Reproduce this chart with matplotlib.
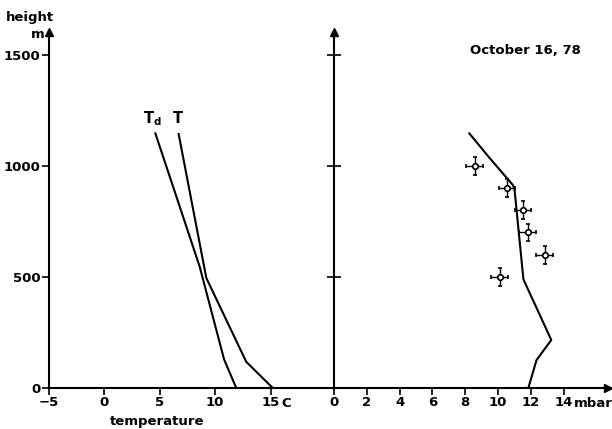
import matplotlib.pyplot as plt
import numpy as np

# temperature profiles (C) vs height (m)
t_height = [1143, 495, 118, 0]
t_temp = [6.7, 9.2, 12.8, 15.2]
td_height = [1146, 546, 129, 0]
td_temp = [4.6, 8.6, 10.8, 11.9]

# vapour pressure (mbar) profile
e_height = [1146, 1034, 914, 899, 489, 216, 126, 0]
e_mbar = [8.25, 9.5, 10.9, 11.0, 11.55, 13.25, 12.35, 11.85]

# measured points with error bars
p_height = [1000, 900, 800, 700, 600, 500]
p_mbar = [8.57, 10.55, 11.52, 11.8, 12.84, 10.1]
p_xerr = 0.5
p_yerr = 40

W, H = 612, 429
plt.rcParams['font.family'] = ['DejaVu Sans']
plt.rcParams['font.size'] = 9.5
plt.rcParams['font.weight'] = 'bold'

fig = plt.figure(figsize=(W / 100, H / 100), dpi=100)

y0, y1 = 388, 32          # pixel rows of 0 m and axis top
x_left, x_mid, x_right = 49, 334, 608
ymax = (y0 - y1) / 0.2222

ax1 = fig.add_axes([x_left / W, (H - y0) / H, (x_mid - x_left) / W, (y0 - y1) / H])
ax2 = fig.add_axes([x_mid / W, (H - y0) / H, (x_right - x_mid) / W, (y0 - y1) / H])

ax1.set_xlim(-5, -5 + (x_mid - x_left) / 11.08)
ax2.set_xlim(0, (x_right - x_mid) / 16.4)
for ax in (ax1, ax2):
    ax.set_ylim(0, ymax)
    ax.patch.set_alpha(0)
    for s in ('top', 'right'):
        ax.spines[s].set_visible(False)
    ax.spines['left'].set_linewidth(1.5)
    ax.spines['bottom'].set_linewidth(1.5)

ax1.plot(t_temp, t_height, color='black', lw=1.5)
ax1.plot(td_temp, td_height, color='black', lw=1.5)
ax1.text(6.6, 1215, 'T', ha='center', va='center', fontsize=10.5)
ax1.text(4.3, 1210, r'T$_\mathbf{d}$', ha='center', va='center', fontsize=10.5)

ax1.set_xticks([-5, 0, 5, 10, 15])
ax1.set_xticklabels(['\u22125', '0', '5', '10', '15'])
ax1.set_yticks([0, 500, 1000, 1500])
ax1.tick_params(axis='both', direction='out', length=5, width=1.2, pad=1)
ax1.text(16.0, -0.025, 'C', transform=ax1.get_xaxis_transform(), ha='left', va='top')
ax1.text(4.8, -0.075, 'temperature', transform=ax1.get_xaxis_transform(), ha='center', va='top')
ax1.plot(0, 1, '^k', ms=6, transform=ax1.transAxes, clip_on=False)

ax2.plot(e_mbar, e_height, color='black', lw=1.5)
ax2.errorbar(p_mbar, p_height, xerr=p_xerr, yerr=p_yerr, fmt='o', ms=4,
             mfc='white', mec='black', mew=1.2, ecolor='black', elinewidth=1,
             capsize=1.5, capthick=1)
ax2.text(8.3, 1517, 'October 16, 78', ha='left', va='center')

ax2.set_xticks(np.arange(0, 15, 2))
ax2.set_yticks([500, 1000, 1500])
ax2.set_yticklabels([])
ax2.tick_params(axis='x', direction='out', length=5, width=1.2, pad=1)
ax2.tick_params(axis='y', direction='inout', length=10, width=1.2)
ax2.text(14.6, -0.025, 'mbar', transform=ax2.get_xaxis_transform(), ha='left', va='top')
ax2.plot(0, 1, '^k', ms=6, transform=ax2.transAxes, clip_on=False)
ax2.plot(1, 0, '>k', ms=6, transform=ax2.transAxes, clip_on=False)

fig.text(30 / W, 1 - 18 / H, 'height', ha='center', va='center')
fig.text(38 / W, 1 - 34 / H, 'm', ha='center', va='center')

fig.savefig('out.png', dpi=100)
